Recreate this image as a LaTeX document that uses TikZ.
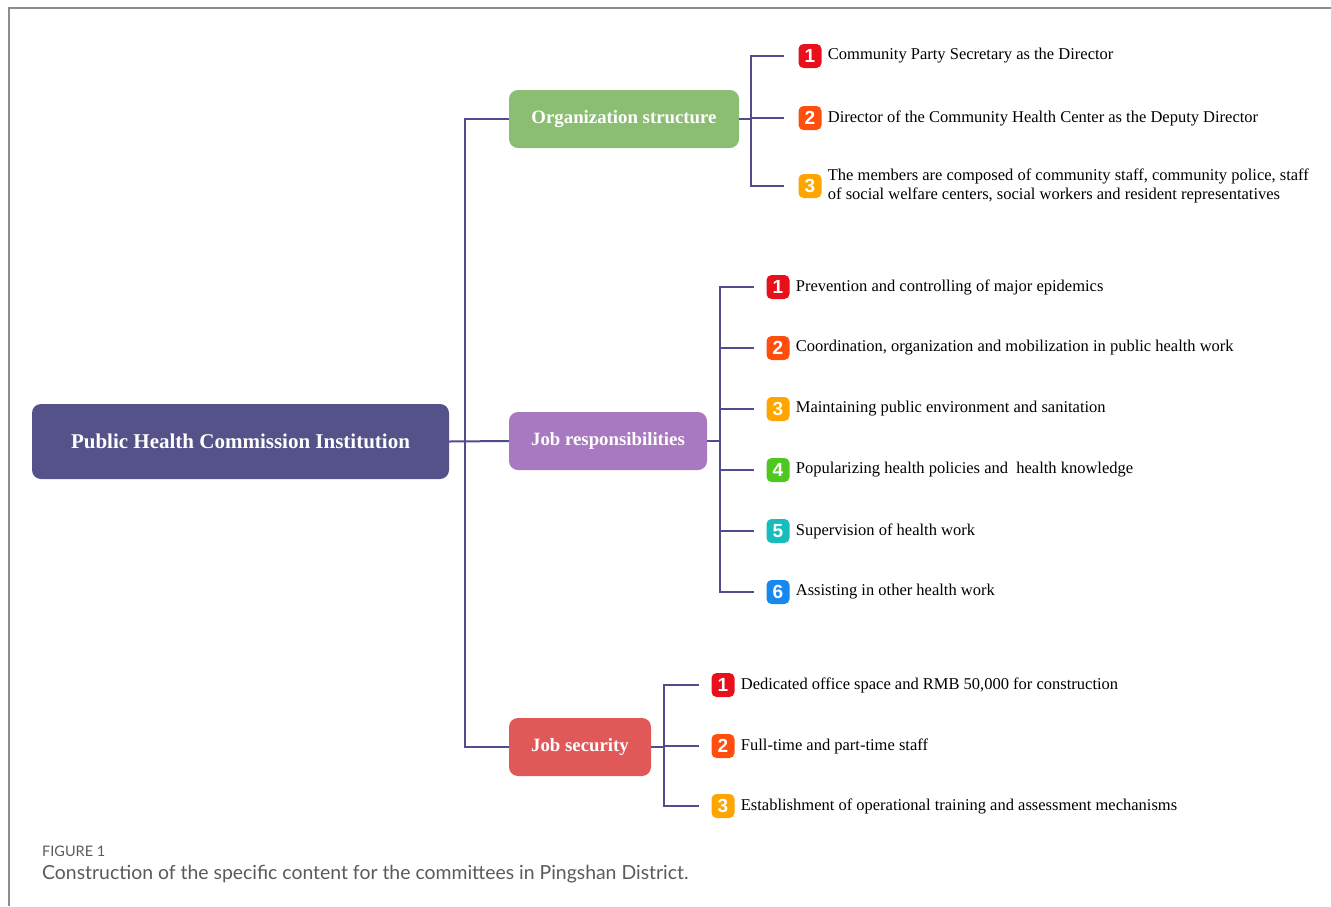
\documentclass[tikz,border=0pt]{standalone}
\usepackage{fontspec}
\setmainfont{Liberation Serif}
\setsansfont{Lato}
\newfontfamily\badgefont{Liberation Sans}
\usetikzlibrary{positioning}
\definecolor{rootcol}{HTML}{545288}
\definecolor{orgcol}{HTML}{8BBE73}
\definecolor{respcol}{HTML}{A878C0}
\definecolor{seccol}{HTML}{E05858}
\definecolor{linkcol}{HTML}{514C8E}
\definecolor{frame}{HTML}{8C8C8C}
\definecolor{capcol}{HTML}{5A5A5A}
\definecolor{numA}{HTML}{E8101A}
\definecolor{numB}{HTML}{FF4E0E}
\definecolor{numC}{HTML}{FFA500}
\definecolor{numD}{HTML}{4EC81E}
\definecolor{numE}{HTML}{17BDBD}
\definecolor{numF}{HTML}{1788F0}
\tikzset{
  link/.style={draw=linkcol, line width=2pt},
  headbox/.style={rounded corners=9pt, text=white, inner sep=0pt,
    font=\fontsize{18.8}{20}\selectfont\bfseries},
  badge/.style={rounded corners=5pt, minimum width=23pt, minimum height=24pt,
    inner sep=0pt, text=white, font=\badgefont\fontsize{19}{19}\selectfont\bfseries},
  leaf/.style={inner sep=0pt, align=left, font=\fontsize{16.5}{19}\selectfont},
}
\begin{document}
\begin{tikzpicture}[x=1pt,y=-1pt]
    \useasboundingbox (0,0) rectangle (1331,906);
    \draw[frame, line width=2pt] (9,906) -- (9,8) -- (1331,8);
    % main boxes
    \node[headbox, fill=rootcol, minimum width=417pt, minimum height=75pt,
      font=\fontsize{21}{22}\selectfont\bfseries] (root) at (240.5,441.5) {Public Health Commission Institution};
    \node[headbox, fill=orgcol, minimum width=230pt, minimum height=58pt] (org) at (624,119) {Organization structure};
    \node[headbox, fill=respcol, minimum width=198pt, minimum height=58pt] (resp) at (608,441) {Job responsibilities};
    \node[headbox, fill=seccol, minimum width=142pt, minimum height=58pt] (sec) at (580,747) {Job security};
    \coordinate (trunk) at (465,441);
    \draw[link] (org.west) -| (trunk) |- (sec.west);
    \draw[link] (root.east) -- (resp.west);
    % organization structure
    \foreach \n/\y/\c in {1/56/numA, 2/118/numB, 3/186/numC}
        \node[badge, fill=\c] (o\n) at (810,\y) {\n};
    \node[leaf, right=6pt of o1] (ot1) {Community Party Secretary as the Director};
    \node[leaf, right=6pt of o2] (ot2) {Director of the Community Health Center as the Deputy Director};
    \node[leaf, right=6pt of o3] (ot3) {The members are composed of community staff, community police, staff\\of social welfare centers, social workers and resident representatives};
    \coordinate (ob) at (751,120);
    \foreach \n in {1,2,3}
        \draw[link] (org.east) -| (ob |- o\n) -- ([xshift=-14pt]o\n.west);
    % job responsibilities
    \foreach \n/\y/\c in {1/287/numA, 2/348/numB, 3/409/numC, 4/470/numD, 5/531/numE, 6/592/numF}
        \node[badge, fill=\c] (r\n) at (778,\y) {\n};
    \node[leaf, right=6pt of r1] (rt1) {Prevention and controlling of major epidemics};
    \node[leaf, right=6pt of r2] (rt2) {Coordination, organization and mobilization in public health work};
    \node[leaf, right=6pt of r3] (rt3) {Maintaining public environment and sanitation};
    \node[leaf, right=6pt of r4] (rt4) {Popularizing health policies and\ \ health knowledge};
    \node[leaf, right=6pt of r5] (rt5) {Supervision of health work};
    \node[leaf, right=6pt of r6] (rt6) {Assisting in other health work};
    \coordinate (rb) at (720,441);
    \foreach \n in {1,...,6}
        \draw[link] (resp.east) -| (rb |- r\n) -- ([xshift=-12pt]r\n.west);
    % job security
    \foreach \n/\y/\c in {1/685/numA, 2/746/numB, 3/806/numC}
        \node[badge, fill=\c] (s\n) at (723,\y) {\n};
    \node[leaf, right=6pt of s1] (st1) {Dedicated office space and RMB 50,000 for construction};
    \node[leaf, right=6pt of s2] (st2) {Full-time and part-time staff};
    \node[leaf, right=6pt of s3] (st3) {Establishment of operational training and assessment mechanisms};
    \coordinate (sb) at (664,747);
    \foreach \n in {1,2,3}
        \draw[link] (sec.east) -| (sb |- s\n) -- ([xshift=-12pt]s\n.west);
    % caption
    \node[anchor=west, inner sep=0pt, text=capcol, font=\sffamily\fontsize{14.5}{15}\selectfont] (fig) at (42,851) {FIGURE 1};
    \node[anchor=west, inner sep=0pt, text=capcol, font=\sffamily\fontsize{19.4}{20}\selectfont] (cap) at (42,874) {Construction of the specific content for the committees in Pingshan District.};
\end{tikzpicture}
\end{document}
